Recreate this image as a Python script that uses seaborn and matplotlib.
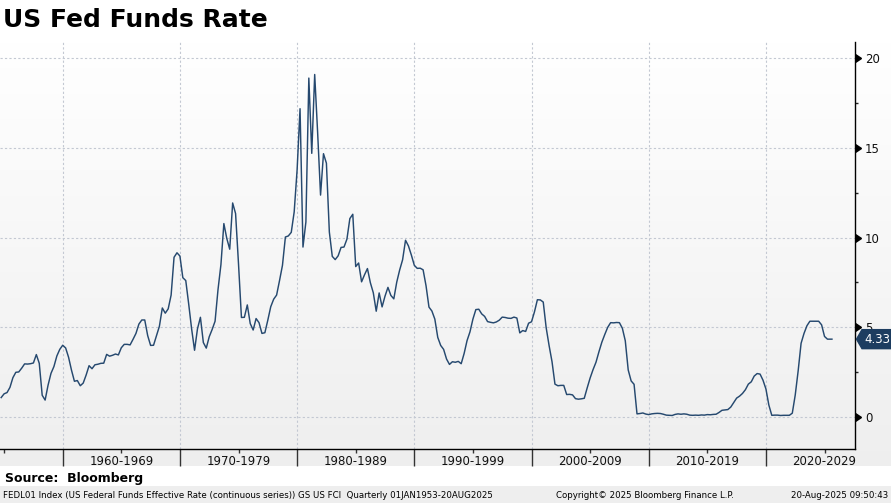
import numpy as np
import pandas as pd
import seaborn as sns
import matplotlib.pyplot as plt
from matplotlib import markers, transforms
from matplotlib.patches import Polygon

## quarter-end fed funds effective rate (%), starting Q3 1954
first_year = 1954
first_quarter = 3
rates = [
    1.07, 1.28,                      # 1954
    1.35, 1.64, 2.18, 2.48,          # 1955
    2.50, 2.71, 2.95, 2.94,          # 1956
    2.96, 3.00, 3.47, 2.98,          # 1957
    1.20, 0.93, 1.76, 2.42,          # 1958
    2.80, 3.39, 3.76, 3.99,          # 1959
    3.84, 3.32, 2.60, 1.98,          # 1960
    2.02, 1.73, 1.88, 2.33,          # 1961
    2.85, 2.68, 2.90, 2.93,          # 1962
    2.98, 2.99, 3.48, 3.38,          # 1963
    3.43, 3.50, 3.45, 3.85,          # 1964
    4.04, 4.04, 4.01, 4.32,          # 1965
    4.65, 5.17, 5.40, 5.40,          # 1966
    4.53, 3.98, 3.99, 4.51,          # 1967
    5.05, 6.07, 5.78, 6.02,          # 1968
    6.79, 8.90, 9.15, 8.97,          # 1969
    7.76, 7.60, 6.29, 4.90,          # 1970
    3.71, 4.91, 5.55, 4.14,          # 1971
    3.83, 4.46, 4.87, 5.33,          # 1972
    7.09, 8.49, 10.78, 9.95,         # 1973
    9.35, 11.93, 11.34, 8.53,        # 1974
    5.54, 5.55, 6.24, 5.20,          # 1975
    4.84, 5.48, 5.25, 4.65,          # 1976
    4.69, 5.39, 6.14, 6.56,          # 1977
    6.79, 7.60, 8.45, 10.03,         # 1978
    10.09, 10.29, 11.43, 13.78,      # 1979
    17.19, 9.47, 10.87, 18.90,       # 1980
    14.70, 19.10, 15.87, 12.37,      # 1981
    14.68, 14.15, 10.31, 8.95,       # 1982
    8.77, 8.98, 9.45, 9.47,          # 1983
    9.91, 11.06, 11.30, 8.38,        # 1984
    8.58, 7.53, 7.92, 8.27,          # 1985
    7.48, 6.92, 5.89, 6.91,          # 1986
    6.13, 6.73, 7.22, 6.77,          # 1987
    6.58, 7.51, 8.19, 8.76,          # 1988
    9.85, 9.53, 9.02, 8.45,          # 1989
    8.28, 8.29, 8.20, 7.31,          # 1990
    6.12, 5.90, 5.45, 4.43,          # 1991
    3.98, 3.76, 3.22, 2.92,          # 1992
    3.07, 3.04, 3.09, 2.96,          # 1993
    3.53, 4.25, 4.74, 5.45,          # 1994
    5.98, 6.00, 5.74, 5.60,          # 1995
    5.31, 5.27, 5.24, 5.29,          # 1996
    5.39, 5.56, 5.54, 5.50,          # 1997
    5.49, 5.56, 5.51, 4.68,          # 1998
    4.81, 4.76, 5.22, 5.30,          # 1999
    5.85, 6.53, 6.52, 6.40,          # 2000
    4.97, 3.97, 3.07, 1.82,          # 2001
    1.73, 1.75, 1.75, 1.24,          # 2002
    1.25, 1.22, 1.01, 0.98,          # 2003
    1.00, 1.03, 1.61, 2.16,          # 2004
    2.63, 3.04, 3.62, 4.16,          # 2005
    4.59, 4.99, 5.25, 5.24,          # 2006
    5.26, 5.25, 4.94, 4.24,          # 2007
    2.61, 2.00, 1.81, 0.16,          # 2008
    0.18, 0.21, 0.15, 0.12,          # 2009
    0.16, 0.18, 0.19, 0.18,          # 2010
    0.14, 0.09, 0.08, 0.07,          # 2011
    0.13, 0.16, 0.14, 0.16,          # 2012
    0.14, 0.09, 0.08, 0.09,          # 2013
    0.08, 0.10, 0.09, 0.12,          # 2014
    0.11, 0.13, 0.14, 0.24,          # 2015
    0.36, 0.38, 0.40, 0.54,          # 2016
    0.79, 1.04, 1.15, 1.30,          # 2017
    1.51, 1.82, 1.95, 2.27,          # 2018
    2.41, 2.38, 2.04, 1.55,          # 2019
    0.65, 0.08, 0.09, 0.09,          # 2020
    0.07, 0.08, 0.08, 0.08,          # 2021
    0.20, 1.21, 2.56, 4.10,          # 2022
    4.65, 5.08, 5.33, 5.33,          # 2023
    5.33, 5.33, 5.13, 4.48,          # 2024
    4.33, 4.33,                      # 2025
]
## last print, 20-Aug-2025
last_date = pd.Timestamp("2025-08-20")
last_rate = 4.33

decade_labels = ["", "1960-1969", "1970-1979", "1980-1989", "1990-1999",
                 "2000-2009", "2010-2019", "2020-2029"]
y_ticks = [0, 5, 10, 15, 20]

## quarter-end dates -> decimal years
qidx = np.arange(len(rates)) + (first_quarter - 1)
xs = list(first_year + qidx // 4 + (qidx % 4 + 1) * 0.25)
xs.append(last_date.year + (last_date.dayofyear - 1) / 365.0)
ys = rates + [last_rate]
df = pd.DataFrame({"year": xs, "rate": ys})

W, H = 891, 503
fig = plt.figure(figsize=(W / 100, H / 100), dpi=100)

## background: white title area, gradient chart area, white source band, grey footer
bg = fig.add_axes([0, 0, 1, 1], zorder=-5)
shade = np.ones(H)
shade[42:466] = np.linspace(1.0, 0.935, 466 - 42)
shade[486:] = 0.935
bg.imshow(np.repeat(shade[:, None, None], 3, axis=2), aspect="auto",
          extent=[0, 1, 0, 1], interpolation="nearest")
bg.set_axis_off()

ax = fig.add_axes([0, (H - 449) / H, 855 / W, (449 - 41.7) / H])
ax.patch.set_visible(False)

sns.lineplot(data=df, x="year", y="rate", ax=ax, color="#26496f",
             linewidth=1.05, estimator=None)

ax.set_xlim(1954.65, 2027.6)
ax.set_ylim(-1.8, 20.93)
ax.set_xlabel("")
ax.set_ylabel("")

## x axis: long ticks at decade edges, labels centred on the decade
ax.set_xticks(np.arange(1960, 2030, 10))
ax.set_xticklabels([])
ax.set_xticks(np.arange(1955, 2030, 10), minor=True)
ax.set_xticklabels(decade_labels, minor=True)
ax.tick_params(axis="x", which="major", length=12.3, width=1, color="#333333")
ax.tick_params(axis="x", which="minor", length=2.8, width=1, pad=1.5,
               labelsize=8.5, labelcolor="#111111", color="#333333")

## y axis on the right with little arrow heads
ax.yaxis.tick_right()
ax.set_yticks(y_ticks)
ax.set_yticks([2.5, 7.5, 12.5, 17.5], minor=True)
ax.tick_params(axis="y", which="major", length=5.5, width=1, pad=1.6,
               labelsize=8.5, labelcolor="#111111")
ax.tick_params(axis="y", which="minor", length=2.5, width=1, color="#222222")
for t in ax.yaxis.get_major_ticks():
    t.tick2line.set_marker(markers.CARETRIGHTBASE)
    t.tick2line.set_markerfacecolor("black")
    t.tick2line.set_markeredgecolor("black")

ax.grid(True, which="major", linestyle=(0, (2, 2)), color="#c3c8d2",
        linewidth=0.8)
ax.set_axisbelow(True)
for side in ["left", "top"]:
    ax.spines[side].set_visible(False)
for side in ["right", "bottom"]:
    ax.spines[side].set_color("black")
    ax.spines[side].set_linewidth(1)

## last value tag
tr = transforms.blended_transform_factory(ax.transAxes, ax.transData)
px = 1 / 855
half = 9.5 / 17.92
tag = Polygon([(1 + 1.5 * px, last_rate), (1 + 7 * px, last_rate + half),
               (W / 855 + 0.01, last_rate + half), (W / 855 + 0.01, last_rate - half),
               (1 + 7 * px, last_rate - half)],
              closed=True, transform=tr, clip_on=False, facecolor="#1d3d60",
              edgecolor="#1d3d60", zorder=10)
ax.add_patch(tag)
ax.text(1 + 9 * px, last_rate, f"{last_rate:.2f}", transform=tr, color="white",
        fontsize=8.5, va="center", ha="left", zorder=11, clip_on=False)

## titles and footer
fig.text(3 / W, 1 - 27 / H, "US Fed Funds Rate", fontsize=18,
         fontweight="bold", va="baseline", ha="left")
fig.text(5 / W, 1 - 482 / H, "Source:  Bloomberg", fontsize=9,
         fontweight="bold", va="baseline", ha="left")
fig.text(3 / W, 1 - 498.5 / H,
         "FEDL01 Index (US Federal Funds Effective Rate (continuous series)) GS US FCI  Quarterly 01JAN1953-20AUG2025",
         fontsize=6.2, va="baseline", ha="left")
fig.text(556 / W, 1 - 498.5 / H, "Copyright\u00a9 2025 Bloomberg Finance L.P.",
         fontsize=6.2, va="baseline", ha="left")
fig.text(888 / W, 1 - 498.5 / H, "20-Aug-2025 09:50:43",
         fontsize=6.2, va="baseline", ha="right")

fig.savefig("out.png", dpi=100)
